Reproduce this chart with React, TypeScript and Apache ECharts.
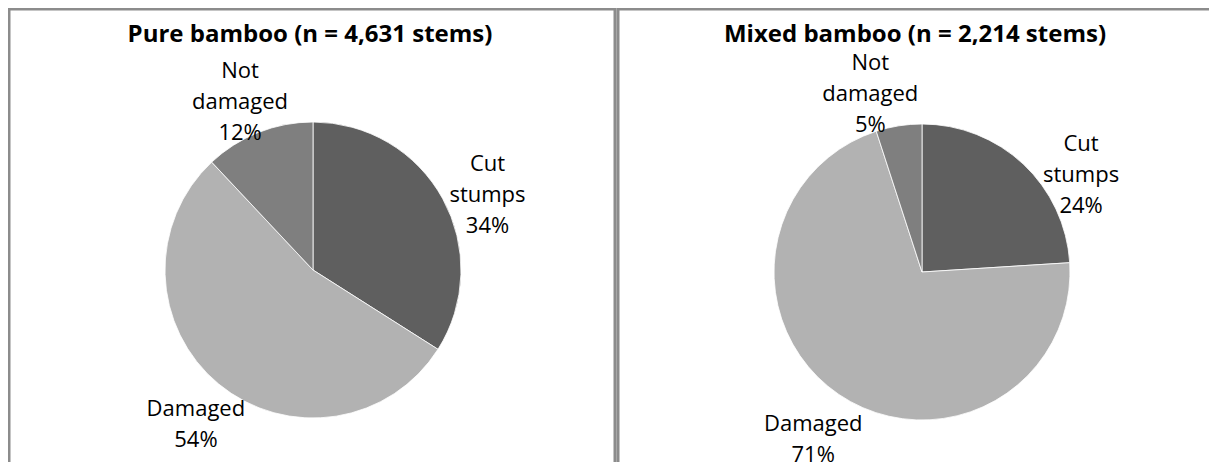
import React, { useEffect, useRef } from "react";
import * as echarts from "echarts";

// Share of stems per damage class (percent of all stems in each stand type)
const CATEGORIES = ["Cut stumps", "Damaged", "Not damaged"];
const PURE_SHARES = [34, 54, 12];
const MIXED_SHARES = [24, 71, 5];
const PANEL_TITLES = ["Pure bamboo (n = 4,631 stems)", "Mixed bamboo (n = 2,214 stems)"];
const SLICE_COLORS = ["#5f5f5f", "#b2b2b2", "#7f7f7f"];

const W = 1209;
const H = 462;
const FONT = "'Open Sans', 'Noto Sans', sans-serif";

// Panel geometry (chart pixels)
const PANELS = [
  { x: 1, width: 606, cx: 305, cy: 262, titleX: 302 },
  { x: 610, width: 608, cx: 914, cy: 264, titleX: 907 },
];
const RADIUS = 148;
const LABEL_DIST = 190;
// Fine offsets for each outside label, per panel, per slice
const LABEL_NUDGE = [
  [[8, 15], [4, 6], [-3, 7]],
  [[29, 40], [-2, 8], [-22, 8]],
];

function midAngle(shares: number[], i: number) {
  const total = shares.reduce((a, b) => a + b, 0);
  let before = 0;
  for (let k = 0; k < i; k++) before += shares[k];
  return ((before + shares[i] / 2) / total) * Math.PI * 2;
}

function pieSeries(shares: number[], p: number) {
  const panel = PANELS[p];
  return {
    type: "pie",
    center: [panel.cx, panel.cy],
    radius: RADIUS,
    startAngle: 90,
    clockwise: true,
    silent: true,
    data: CATEGORIES.map((name, i) => ({
      name,
      value: shares[i],
      itemStyle: { color: SLICE_COLORS[i] },
    })),
    itemStyle: { borderColor: "#ffffff", borderWidth: 0.8 },
    label: {
      show: true,
      position: "outside",
      color: "#000",
      fontFamily: FONT,
      fontSize: 22,
      lineHeight: 31,
      align: "center",
      formatter: (prm: any) =>
        prm.name.split(" ").join("\n") + "\n" + Math.round(prm.percent) + "%",
    },
    labelLine: { show: false },
    labelLayout: (prm: any) => {
      const i = prm.dataIndex;
      const a = midAngle(shares, i);
      const [nx, ny] = LABEL_NUDGE[p][i];
      return {
        x: panel.cx + LABEL_DIST * Math.sin(a) + nx,
        y: panel.cy - LABEL_DIST * Math.cos(a) + ny,
        align: "center",
        verticalAlign: "middle",
      };
    },
  };
}

export default function App() {
  const ref = useRef<HTMLDivElement>(null);

  useEffect(() => {
    document.documentElement.style.overflow = "hidden";
    document.body.style.overflow = "hidden";
    const chart = echarts.init(ref.current!, undefined, { renderer: "svg", width: W, height: H });
    chart.setOption({
      animation: false,
      backgroundColor: "#ffffff",
      title: PANEL_TITLES.map((t, p) => ({
        text: t,
        left: PANELS[p].titleX,
        top: 10,
        textAlign: "center",
        padding: 0,
        textStyle: {
          fontFamily: FONT,
          fontWeight: "bold",
          fontSize: 24,
          lineHeight: 28,
          color: "#000",
        },
      })),
      graphic: PANELS.map((panel) => ({
        type: "rect",
        shape: { x: panel.x, y: 1, width: panel.width, height: 600 },
        style: { fill: "none", stroke: "#8c8c8c", lineWidth: 3 },
        silent: true,
        z: 10,
      })),
      series: [pieSeries(PURE_SHARES, 0), pieSeries(MIXED_SHARES, 1)],
    });
    return () => chart.dispose();
  }, []);

  return (
    <div style={{ width: W, height: H, marginBottom: -8, overflow: "hidden" }}>
      <div ref={ref} style={{ width: W, height: H }} />
    </div>
  );
}
